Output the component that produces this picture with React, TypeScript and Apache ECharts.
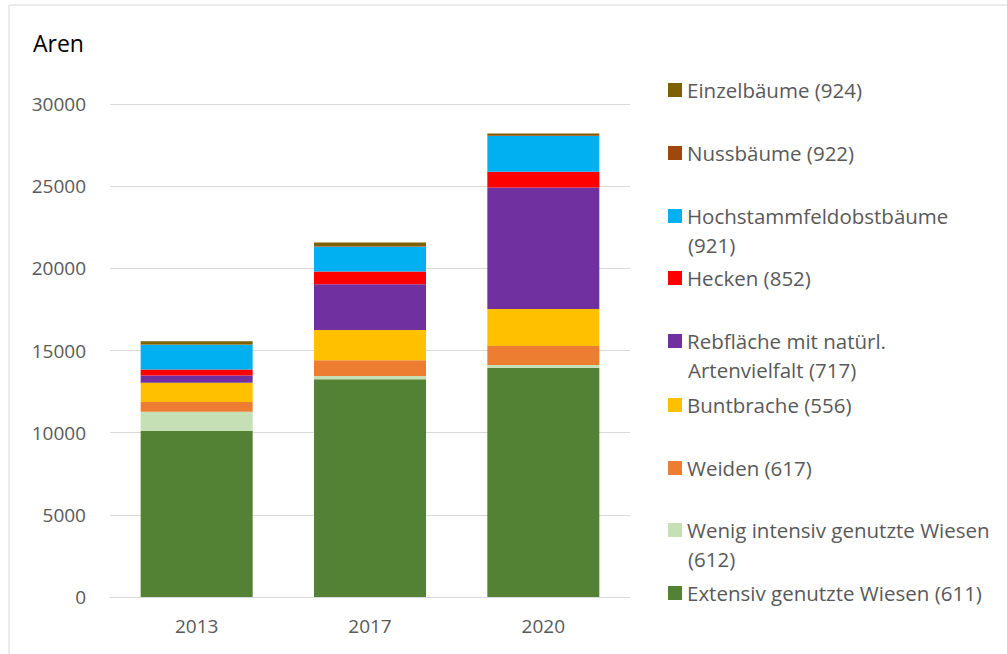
import React, { useEffect, useRef } from "react";
import * as echarts from "echarts";

const years = ["2013", "2017", "2020"];
const seriesNames = [
  "Extensiv genutzte Wiesen (611)",
  "Wenig intensiv genutzte Wiesen (612)",
  "Weiden (617)",
  "Buntbrache (556)",
  "Rebfläche mit natürl. Artenvielfalt (717)",
  "Hecken (852)",
  "Hochstammfeldobstbäume (921)",
  "Nussbäume (922)",
  "Einzelbäume (924)",
];
const extensiv = [10100, 13250, 13950];
const wenig = [1180, 200, 165];
const weiden = [590, 955, 1155];
const buntbrache = [1160, 1845, 2250];
const rebflaeche = [450, 2780, 7400];
const hecken = [370, 770, 950];
const hochstamm = [1500, 1520, 2190];
const nuss = [20, 30, 40];
const einzel = [200, 215, 110];
const colors = ["#548235", "#c5e0b4", "#ed7d31", "#ffc000", "#7030a0", "#ff0000", "#00b0f0", "#9e480e", "#7f6000"];
const yTicks = [0, 5000, 10000, 15000, 20000, 25000, 30000];

// legend layout: first line label, second line (if wrapped), center y
const legendOrder = [8, 7, 6, 5, 4, 3, 2, 1, 0];
const legendFirst = [
  "Einzelbäume (924)",
  "Nussbäume (922)",
  "Hochstammfeldobstbäume",
  "Hecken (852)",
  "Rebfläche mit natürl.",
  "Buntbrache (556)",
  "Weiden (617)",
  "Wenig intensiv genutzte Wiesen",
  "Extensiv genutzte Wiesen (611)",
];
const legendSecond = ["", "", "(921)", "", "Artenvielfalt (717)", "", "", "(612)", ""];
const legendY = [90, 153, 216, 278, 341, 405, 468, 530, 593];

const FONT = "'Open Sans', 'Noto Sans', sans-serif";
const TXT = "#595959";
const FS = 19;
const LFS = 20.5;

export default function App() {
  const ref = useRef<HTMLDivElement>(null);
  useEffect(() => {
    if (!ref.current) return;
    const chart = echarts.init(ref.current, undefined, { renderer: "svg" });
    const values = [extensiv, wenig, weiden, buntbrache, rebflaeche, hecken, hochstamm, nuss, einzel];
    const series = seriesNames.map((name, i) => ({
      name,
      type: "bar",
      stack: "total",
      barWidth: 112,
      data: values[i],
      itemStyle: { color: colors[i] },
      emphasis: { disabled: true },
    }));
    const firstMap: Record<string, string> = {};
    legendOrder.forEach((si, k) => {
      firstMap[seriesNames[si]] = legendFirst[k];
    });
    const legends = legendOrder.map((si, k) => ({
      data: [seriesNames[si]],
      left: 668,
      top: legendY[k] - 13,
      padding: 0,
      itemWidth: 14,
      itemHeight: 14,
      itemGap: 5,
      icon: "rect",
      selectedMode: false,
      formatter: (n: string) => firstMap[n],
      textStyle: { color: TXT, fontSize: LFS, fontFamily: FONT, lineHeight: 26 },
    }));
    const secondLines = legendSecond
      .map((t, k) => ({ t, k }))
      .filter((o) => o.t)
      .map((o) => ({
        type: "text",
        left: 688,
        top: legendY[o.k] + 30 - 12,
        style: { text: o.t, fill: TXT, font: `${LFS}px ${FONT}` },
      }));
    chart.setOption({
      animation: false,
      color: colors,
      grid: { left: 110, right: 377, top: 104, bottom: 57, containLabel: false },
      xAxis: {
        type: "category",
        data: years,
        axisLine: { lineStyle: { color: "#d9d9d9", width: 1 } },
        axisTick: { show: false },
        axisLabel: { color: TXT, fontSize: FS, fontFamily: FONT, margin: 19 },
      },
      yAxis: {
        type: "value",
        min: yTicks[0],
        max: yTicks[yTicks.length - 1],
        interval: 5000,
        axisLine: { show: false },
        axisTick: { show: false },
        splitLine: { lineStyle: { color: "#d9d9d9", width: 1 } },
        axisLabel: {
          color: TXT,
          fontSize: FS,
          fontFamily: FONT,
          margin: 24,
          formatter: (v: number) => String(v),
        },
      },
      legend: legends,
      graphic: [
        {
          type: "rect",
          shape: { x: 9, y: 5, width: 1100, height: 700 },
          style: { fill: "none", stroke: "#d9d9d9", lineWidth: 1 },
          silent: true,
        },
        {
          type: "text",
          left: 33,
          top: 31,
          style: { text: "Aren", fill: "#000", font: `23px ${FONT}` },
        },
        ...secondLines,
      ],
      series,
    });
    return () => chart.dispose();
  }, []);
  return (
    <div
      ref={ref}
      style={{ position: "fixed", left: 0, top: 0, width: 1007, height: 654, background: "#fff" }}
    />
  );
}
